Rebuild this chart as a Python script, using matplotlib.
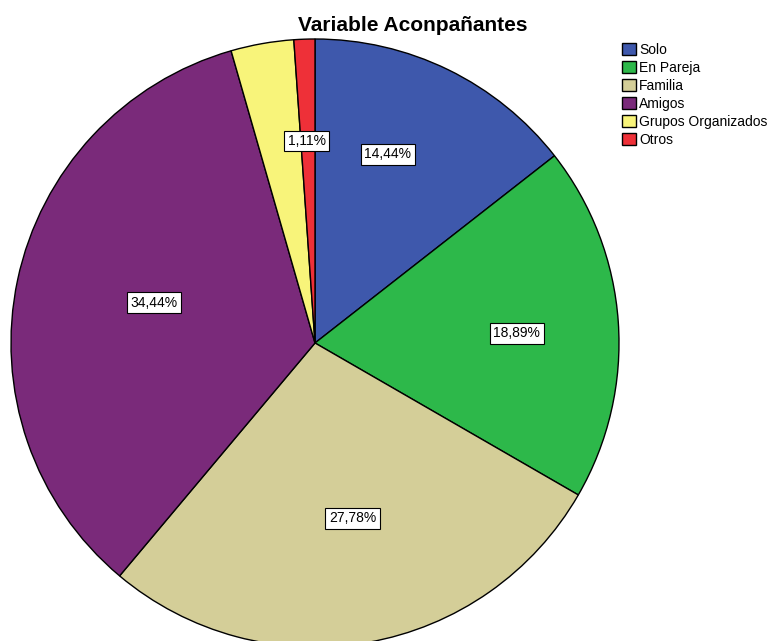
import matplotlib
matplotlib.use("Agg")
import matplotlib.pyplot as plt
import numpy as np

categories = ["Solo", "En Pareja", "Familia", "Amigos", "Grupos Organizados", "Otros"]
values = [14.44, 18.89, 27.78, 34.44, 3.34, 1.11]
show_label = [True, True, True, True, False, True]
colors = ["#3E58AC", "#2DB84A", "#D4CE98", "#7A2A7A", "#F8F47A", "#EE3038"]
# label placement style (radius fraction, angular offset in degrees)
label_radius = [0.666, 0.665, 0.589, 0.546, 0.6, 0.665]
label_angle_offset = [4.9, -1.2, 2.1, -2.0, 0.0, 0.3]

plt.rcParams["font.family"] = ["Liberation Sans", "DejaVu Sans"]

fig = plt.figure(figsize=(7.73, 6.41), dpi=100)
cx, cy, r = 315, 343, 304
W, H = 773, 641
ax = fig.add_axes([(cx - r) / W, (H - cy - r) / H, 2 * r / W, 2 * r / H])

wedges, _ = ax.pie(values, colors=colors, startangle=90, counterclock=False,
                   radius=1.0, wedgeprops=dict(edgecolor="black", linewidth=1.0))
ax.set_xlim(-1, 1)
ax.set_ylim(-1, 1)
ax.set_aspect("equal")
ax.axis("off")

for w, v, show, rr, off in zip(wedges, values, show_label, label_radius, label_angle_offset):
    if not show:
        continue
    ang = np.deg2rad((w.theta1 + w.theta2) / 2 + off)
    ax.text(rr * np.cos(ang), rr * np.sin(ang), f"{v:.2f}%".replace(".", ","),
            ha="center", va="center", fontsize=10,
            bbox=dict(boxstyle="square,pad=0.25", facecolor="white", edgecolor="black", linewidth=0.8))

fig.text(413 / W, 1 - 31 / H, "Variable Aconpañantes", ha="center", va="baseline",
         fontsize=15, fontweight="bold")

fig.legend(wedges, categories, loc="upper left", bbox_to_anchor=(622 / W, 1 - 43 / H),
           frameon=False, fontsize=10, handlelength=1.0, handleheight=0.95,
           handletextpad=0.22, labelspacing=0.29, borderaxespad=0, borderpad=0)

fig.savefig("out.png", dpi=100)
